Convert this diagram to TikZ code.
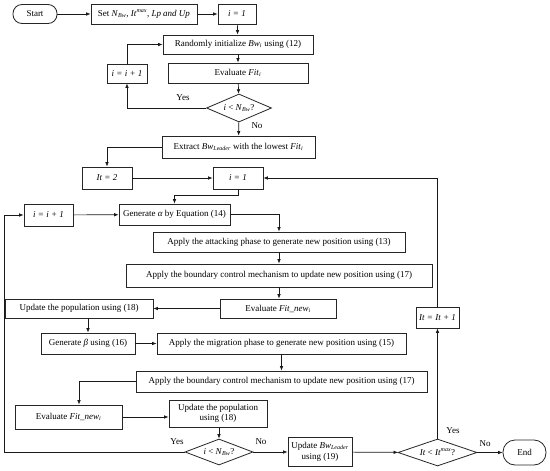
\documentclass[tikz,border=0pt]{standalone}
\usepackage{fontspec}
\setmainfont{Liberation Serif}
\usetikzlibrary{shapes.geometric,arrows.meta,positioning}
\newcommand{\sbi}[1]{\textsubscript{\textit{#1}}}
\newcommand{\spi}[1]{\textsuperscript{\textit{#1}}}
\begin{document}
\begin{tikzpicture}[x=1pt,y=-1pt,
  every node/.style={font=\fontsize{9}{10.5}\selectfont},
  box/.style={draw=black!85,line width=0.8pt,rectangle,inner sep=0pt,align=center},
  term/.style={draw=black!85,line width=0.8pt,rectangle,rounded corners=9pt,inner sep=0pt},
  dia/.style={draw=black!85,line width=0.8pt,diamond,aspect=2.4,inner sep=0pt},
  lab/.style={inner sep=1pt},
  arr/.style={draw=black!90,line width=0.7pt,-{Latex[length=4.5pt,width=3.6pt]}},
  ln/.style={draw=black!90,line width=0.7pt}]
\useasboundingbox (0,0) rectangle (550,471);
\fill[white] (0,0) rectangle (550,471);
% nodes
\node[term,minimum width=44pt,minimum height=19pt] (start) at (35,14) {Start};
\node[box,minimum width=106pt,minimum height=20pt] (set) at (144,14) {Set \textit{N}\sbi{Bw}, \textit{It}\spi{max}, \textit{Lp and Up}};
\node[box,minimum width=38pt,minimum height=20pt] (i1a) at (237,14) {\textit{i = 1}};
\node[box,minimum width=150pt,minimum height=19pt] (rand) at (238,44.5) {Randomly initialize \textit{Bw}\sbi{i} using (12)};
\node[box,minimum width=140pt,minimum height=20pt] (evala) at (238,73) {Evaluate \textit{Fit}\sbi{i}};
\node[dia,minimum width=65pt,minimum height=28pt] (d1) at (239,108) {\textit{i} < \textit{N}\sbi{Bw}?};
\node[box,minimum width=40pt,minimum height=19pt] (ip1a) at (127,73.5) {\textit{i = i + 1}};
\node[box,minimum width=153pt,minimum height=22pt] (extract) at (238.5,147) {Extract \textit{Bw}\sbi{Leader} with the lowest \textit{Fit}\sbi{i}};
\node[box,minimum width=50pt,minimum height=22pt] (it2) at (107,178) {\textit{It = 2}};
\node[box,minimum width=50pt,minimum height=22pt] (i1b) at (238,178) {\textit{i = 1}};
\node[box,minimum width=111pt,minimum height=21pt] (gena) at (174.5,214.5) {Generate \textit{α} by Equation (14)};
\node[box,minimum width=49pt,minimum height=22pt] (ip1b) at (48.5,215) {\textit{i = i + 1}};
\node[box,minimum width=252pt,minimum height=20pt] (attack) at (279,242) {Apply the attacking phase to generate new position using (13)};
\node[box,minimum width=306pt,minimum height=23pt] (bound1) at (279,275.5) {Apply the boundary control mechanism to update new position using (17)};
\node[box,minimum width=116pt,minimum height=19pt] (evalb) at (278,308.5) {Evaluate \textit{Fit\_new}\sbi{i}};
\node[box,minimum width=148pt,minimum height=19pt] (upd1) at (79,308.5) {Update the population using (18)};
\node[box,minimum width=94pt,minimum height=21pt] (genb) at (88,343.5) {Generate \textit{β} using (16)};
\node[box,minimum width=249pt,minimum height=21pt] (migr) at (281.5,343.5) {Apply the migration phase to generate new position using (15)};
\node[box,minimum width=291pt,minimum height=21pt] (bound2) at (281.5,381.5) {Apply the boundary control mechanism to update new position using (17)};
\node[box,minimum width=107pt,minimum height=24pt] (evalc) at (68.5,417) {Evaluate \textit{Fit\_new}\sbi{i}};
\node[box,minimum width=98pt,minimum height=27pt] (upd2) at (218,413.5) {Update the population\\using (18)};
\node[dia,minimum width=68pt,minimum height=26pt] (d2) at (219,452) {\textit{i} < \textit{N}\sbi{Bw}?};
\node[box,minimum width=64pt,minimum height=29pt] (updbw) at (320,452) {Update \textit{Bw}\sbi{Leader}\\using (19)};
\node[dia,minimum width=79pt,minimum height=27pt] (d3) at (437.5,452.5) {\textit{It} < \textit{It}\spi{max}?};
\node[term,minimum width=43pt,minimum height=25pt,rounded corners=12pt] (end) at (524.5,452.5) {End};
\node[box,minimum width=43pt,minimum height=21pt] (itinc) at (437.5,317.5) {\textit{It = It + 1}};
\coordinate (lft) at (4,452);
% connectors
\draw[arr] (start) -- (set);
\draw[arr] (set) -- (i1a);
\draw[arr] (i1a) -- (rand);
\draw[arr] (rand) -- (evala);
\draw[arr] (evala) -- (d1);
\draw[arr] (d1.west) -| (ip1a.south);
\draw[arr] (ip1a.north) |- (rand.west);
\draw[arr] (d1) -- (extract);
\draw[arr] (extract.west) -| (it2.north);
\draw[arr] (it2) -- (i1b);
\draw[arr] (i1b.south) -- ++(0,6) -| (gena.north);
\draw[arr] (ip1b) -- (gena);
\draw[arr] (gena.east) -| (attack.north);
\draw[arr] (attack) -- (bound1);
\draw[arr] (bound1.south) -- (bound1.south |- evalb.north);
\draw[arr] (evalb) -- (upd1);
\draw[arr] (genb.north |- upd1.south) -- (genb.north);
\draw[arr] (genb) -- (migr);
\draw[arr] (migr) -- (bound2);
\draw[arr] (bound2.west) -| ([xshift=10.5pt]evalc.north);
\draw[arr] (evalc.east) -- (evalc.east -| upd2.west);
\draw[arr] (upd2.south -| d2.north) -- (d2.north);
\draw[arr] (d2.west) -- (lft) |- (ip1b.west);
\draw[arr] (d2) -- (updbw);
\draw[arr] (updbw) -- (d3);
\draw[arr] (d3) -- (itinc);
\draw[arr] (itinc.north) |- (i1b.east);
\draw[arr] (d3) -- (end);
% labels
\node[lab] (y1) at (183,98) {Yes};
\node[lab] (n1) at (257,126) {No};
\node[lab] (y2) at (177,442) {Yes};
\node[lab] (n2) at (261,442) {No};
\node[lab] (y3) at (453,431) {Yes};
\node[lab] (n3) at (485,444) {No};
\end{tikzpicture}
\end{document}
